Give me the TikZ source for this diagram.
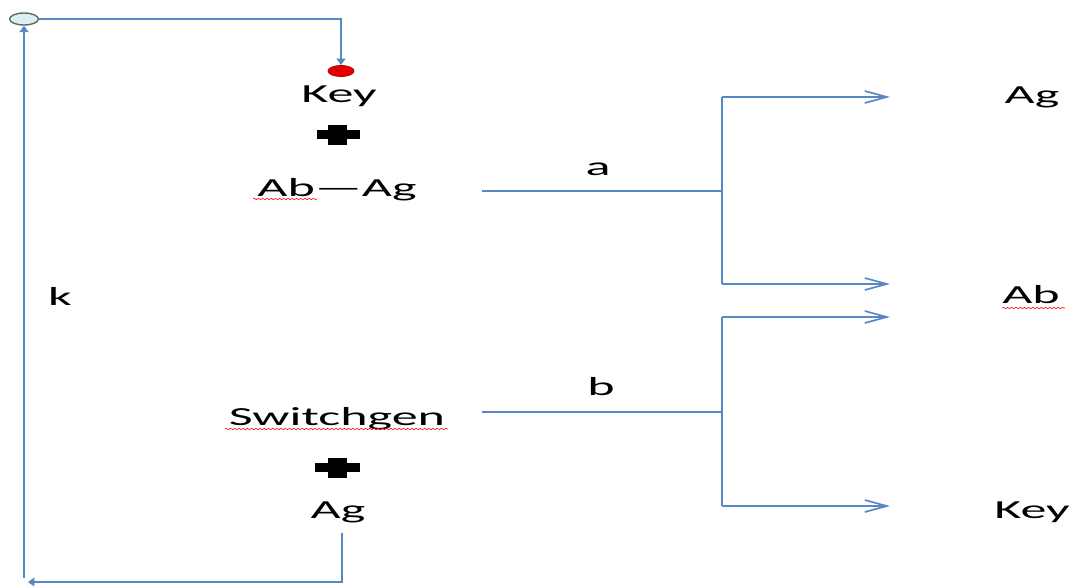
\documentclass[tikz,border=0pt]{standalone}
\usepackage{fontspec}
\usetikzlibrary{arrows.meta, shapes.geometric, decorations.pathmorphing}
\newfontfamily\wordfont[FakeStretch=2]{Carlito}
\definecolor{linkblue}{RGB}{88,136,196}
\definecolor{knobfill}{RGB}{218,238,243}

\tikzset{
    word/.style={font=\wordfont\fontsize{18.5}{20}\selectfont, inner sep=0pt, anchor=base},
    wire/.style={draw=linkblue, line width=1.2pt},
    branch/.style={wire, line width=2pt},
    outarrow/.style={wire, -{Straight Barb[length=0.55cm, width=0.3cm]}},
    inarrow/.style={wire, -{Triangle[length=0.16cm, width=0.22cm]}},
    spell/.style={draw=red, line width=0.4pt, decorate, decoration={snake, amplitude=0.5pt, segment length=3pt}},
    plusbar/.style={fill=black},
}

\begin{document}
\begin{tikzpicture}[x=0.025cm, y=-0.025cm]
    \useasboundingbox (0,0) rectangle (1076,585);

    % switch and lock
    \node (knob) at (24,19) [ellipse, draw=gray!80!black, fill=knobfill, line width=1pt, minimum width=0.72cm, minimum height=0.3cm, inner sep=0pt] {};
    \node (lock) at (341,71) [ellipse, draw=red!70!black, fill=red!90!black, line width=0.6pt, minimum width=0.65cm, minimum height=0.275cm, inner sep=0pt] {};

    % left side
    \node[word] (keyL) at (339,102) {Key};
    \fill[plusbar] (317,130) rectangle (360,139);
    \fill[plusbar] (328,125) rectangle (347,145);
    \node[word] (abag) at (337,196) {Ab—Ag};
    \draw[spell] (253,199) -- (317,199);

    \node[word] (k) at (60,305) {k};

    \node[word] (sw) at (337,425) {Switchgen};
    \draw[spell] (225,429) -- (448,429);
    \fill[plusbar] (315,463) rectangle (360,472);
    \fill[plusbar] (328,458) rectangle (347,478);
    \node[word] (agL) at (338,518) {Ag};

    % right side
    \node[word] (agR) at (1032,103) {Ag};
    \node[word] (abR) at (1031,303) {Ab};
    \draw[spell] (1002,308) -- (1065,308);
    \node[word] (keyR) at (1032,518) {Key};

    \node[word] (a) at (598,175) {a};
    \node[word] (b) at (601,395) {b};

    % junctions and free ends
    \coordinate (ina) at (482,191);
    \coordinate (ja) at (722,191);
    \coordinate (ja1) at (722,97);
    \coordinate (ja2) at (722,284);
    \coordinate (inb) at (482,412);
    \coordinate (jb) at (722,412);
    \coordinate (jb1) at (722,317);
    \coordinate (jb2) at (722,506);
    \coordinate (bl) at (28,582);
    \coordinate (blup) at (24,578);

    % branch a
    \draw[wire] (ina) -- (ja);
    \draw[branch] (ja1) -- (ja2);
    \draw[outarrow] (ja1) -- (890,97);
    \draw[outarrow] (ja2) -- (890,284);

    % branch b
    \draw[wire] (inb) -- (jb);
    \draw[branch] (jb1) -- (jb2);
    \draw[outarrow] (jb1) -- (890,317);
    \draw[outarrow] (jb2) -- (890,506);

    % loop back
    \draw[inarrow] ([xshift=0.1cm, yshift=-0.25cm]agL.south) |- (bl);
    \draw[inarrow] (blup) -- (knob.south);
    \draw[inarrow] (knob.east) -| (lock.north);
\end{tikzpicture}
\end{document}
